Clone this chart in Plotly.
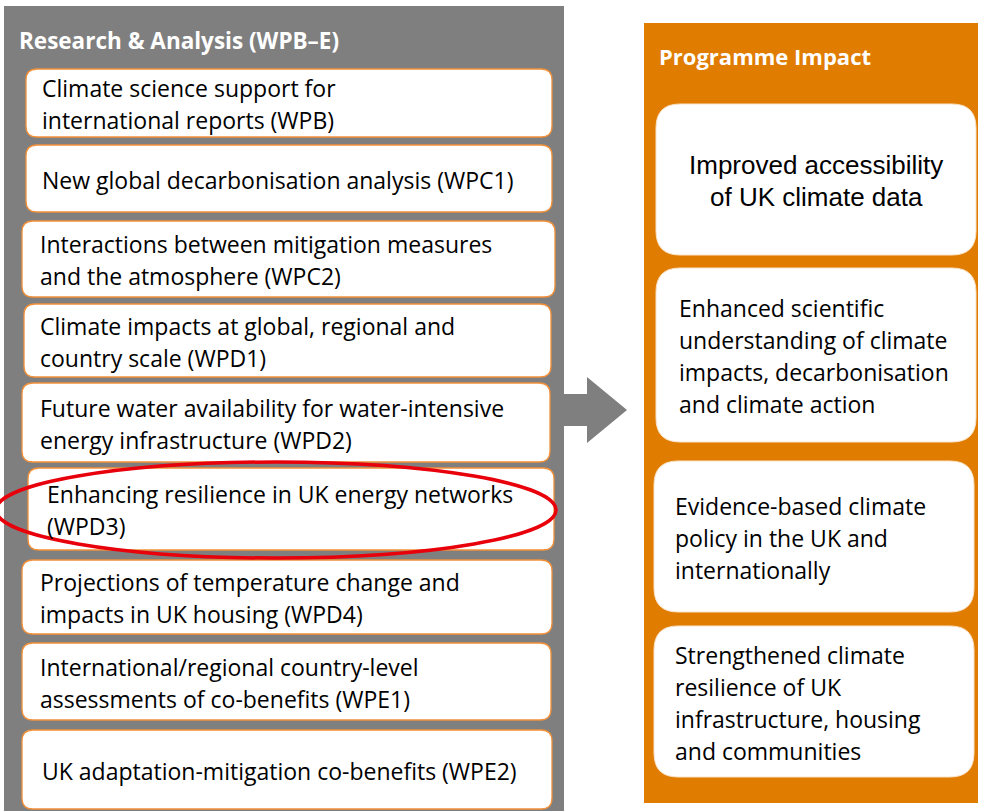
import plotly.graph_objects as go

# ---- data (texts) ----
left_title = "Research & Analysis (WPB–E)"
left_items = [
    ["Climate science support for", "international reports (WPB)"],
    ["New global decarbonisation analysis (WPC1)"],
    ["Interactions between mitigation measures", "and the atmosphere (WPC2)"],
    ["Climate impacts at global, regional and", "country scale (WPD1)"],
    ["Future water availability for water-intensive", "energy infrastructure (WPD2)"],
    ["Enhancing resilience in UK energy networks", "(WPD3)"],
    ["Projections of temperature change and", "impacts in UK housing (WPD4)"],
    ["International/regional country-level", "assessments of co-benefits (WPE1)"],
    ["UK adaptation-mitigation co-benefits (WPE2)"],
]
right_title = "Programme Impact"
right_items = [
    ["Improved accessibility", "of UK climate data"],
    ["Enhanced scientific", "understanding of climate", "impacts, decarbonisation", "and climate action"],
    ["Evidence-based climate", "policy in the UK and", "internationally"],
    ["Strengthened climate", "resilience of UK", "infrastructure, housing", "and communities"],
]
highlight_index = 5

# ---- layout geometry ----
W, H = 981, 811
left_boxes = [(26, 69, 552, 137), (26, 145, 552, 212), (22, 221, 555, 297),
              (24, 304, 551, 377), (22, 383, 550, 462), (28, 468, 554, 550),
              (22, 560, 552, 634), (22, 643, 551, 720), (22, 730, 552, 809)]
left_text_x = [40, 40, 38, 38, 38, 45, 38, 38, 40]
right_boxes = [(656, 104, 976, 255), (656, 268, 976, 442),
               (654, 461, 974, 612), (654, 626, 974, 777)]
right_text_x = [816, 677, 673, 673]
LINE = 32

GRAY = "#7f7f7f"
ORANGE = "#e07c00"
BORDER = "#f2913a"
FONT = "'Open Sans', Lato, sans-serif"


def rrect(x0, y0, x1, y1, r):
    return (f"M {x0+r},{y0} L {x1-r},{y0} Q {x1},{y0} {x1},{y0+r} "
            f"L {x1},{y1-r} Q {x1},{y1} {x1-r},{y1} L {x0+r},{y1} "
            f"Q {x0},{y1} {x0},{y1-r} L {x0},{y0+r} Q {x0},{y0} {x0+r},{y0} Z")


shapes = []
annotations = []

# panels
shapes.append(dict(type="rect", x0=4, y0=6, x1=564, y1=H + 5, fillcolor=GRAY,
                   line=dict(width=0), layer="below"))
shapes.append(dict(type="rect", x0=644, y0=23, x1=978, y1=803, fillcolor=ORANGE,
                   line=dict(width=0), layer="below"))

# arrow
shapes.append(dict(type="path",
                   path="M 563,394 L 587,394 L 587,377 L 627,410 L 587,443 L 587,426 L 563,426 Z",
                   fillcolor=GRAY, line=dict(width=0)))

# titles
annotations.append(dict(x=17, y=40, text=f"<b>{left_title}</b>", showarrow=False,
                        xanchor="left", yanchor="middle",
                        font=dict(family=FONT, size=22.5, color="white")))
annotations.append(dict(x=657, y=56, text=f"<b>{right_title}</b>", showarrow=False,
                        xanchor="left", yanchor="middle",
                        font=dict(family=FONT, size=22, color="white")))

# left boxes
for (x0, y0, x1, y1), tx, lines in zip(left_boxes, left_text_x, left_items):
    shapes.append(dict(type="path", path=rrect(x0, y0, x1, y1, 11),
                       fillcolor="white", line=dict(color=BORDER, width=1.3)))
    yc = (y0 + y1) / 2 + 1
    n = len(lines)
    for i, t in enumerate(lines):
        y = yc + (i - (n - 1) / 2) * LINE
        annotations.append(dict(x=tx, y=y, text=t, showarrow=False,
                                xanchor="left", yanchor="middle",
                                font=dict(family=FONT, size=23, color="black")))

# right boxes
for k, ((x0, y0, x1, y1), tx, lines) in enumerate(zip(right_boxes, right_text_x, right_items)):
    shapes.append(dict(type="path", path=rrect(x0, y0, x1, y1, 24),
                       fillcolor="white", line=dict(color="#fbe3c8", width=1)))
    yc = (y0 + y1) / 2 + 1
    n = len(lines)
    for i, t in enumerate(lines):
        y = yc + (i - (n - 1) / 2) * LINE
        if k == 0:
            annotations.append(dict(x=tx, y=y, text=t, showarrow=False,
                                    xanchor="center", yanchor="middle",
                                    font=dict(family="Liberation Sans, Arial, sans-serif",
                                              size=26, color="black")))
        else:
            annotations.append(dict(x=tx, y=y, text=t, showarrow=False,
                                    xanchor="left", yanchor="middle",
                                    font=dict(family=FONT, size=23, color="black")))

# red highlight ellipse
hx0, hy0, hx1, hy1 = left_boxes[highlight_index]
shapes.append(dict(type="circle", x0=-4, y0=hy0 - 6, x1=hx1 + 2, y1=hy1 + 8,
                   line=dict(color="#e8000b", width=3.5)))

fig = go.Figure()
fig.update_layout(
    width=W, height=H,
    margin=dict(l=0, r=0, t=0, b=0),
    paper_bgcolor="white", plot_bgcolor="white",
    xaxis=dict(range=[0, W], visible=False, fixedrange=True),
    yaxis=dict(range=[H, 0], visible=False, fixedrange=True),
    shapes=shapes, annotations=annotations, showlegend=False,
)
fig.write_html("out.html", config={"displayModeBar": False},
               post_script="document.body.style.margin='0px';document.body.style.overflow='hidden';")
